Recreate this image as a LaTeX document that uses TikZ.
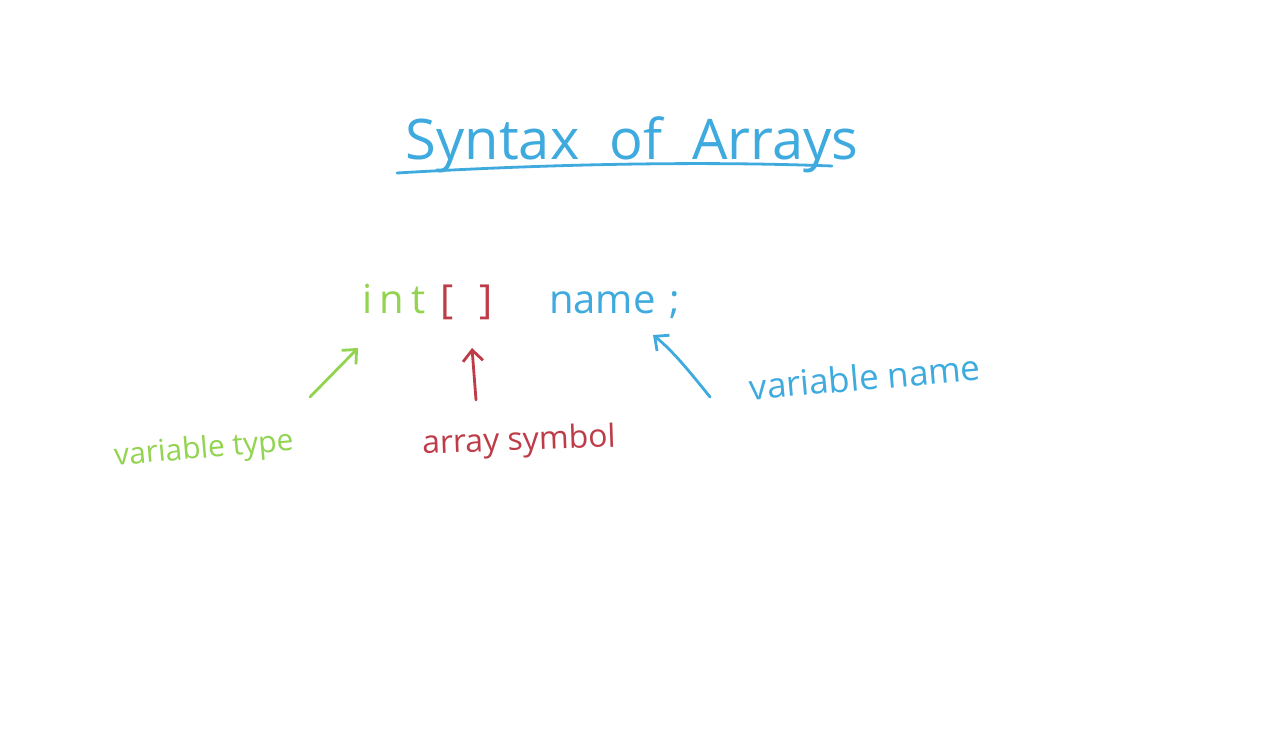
\documentclass[tikz,border=0pt]{standalone}
\usepackage{fontspec}
\setmainfont{Open Sans}
\usetikzlibrary{arrows.meta}
\definecolor{hblue}{RGB}{62,170,222}
\definecolor{hgreen}{RGB}{146,212,80}
\definecolor{hred}{RGB}{190,60,72}
\begin{document}
\begin{tikzpicture}[x=1pt,y=-1pt,
  every node/.style={inner sep=0pt,outer sep=0pt},
  stroke/.style={line width=2.8pt,line cap=round,line join=round},
  tipped/.style={stroke,-{Straight Barb[length=11pt,width=20pt,line width=2.8pt]}},
  title/.style={font=\fontsize{56}{60}\selectfont,text=hblue},
  code/.style={font=\fontsize{40}{44}\selectfont},
  lbl/.style={font=\fontsize{30}{34}\selectfont}]
\useasboundingbox[fill=white] (0,0) rectangle (1280,751);

% title
\node[title,anchor=base] (title) at (632,160) {Syntax\hspace{30pt}of\hspace{30pt}Arrays};
\draw[stroke,hblue] (397,173) .. controls (550,164) and (700,161) .. (832,166);

% code line
\node[code,text=hgreen,anchor=base west] (int) at (362,314) {\addfontfeature{LetterSpace=18}int};
\node[code,text=hred,anchor=base west] (br) at (440,314) {[\hspace{26pt}]};
\node[code,text=hblue,anchor=base west] (name) at (549,314) {name\hspace{14pt};};

% labels
\node[lbl,text=hgreen,rotate=5] (vt) at (204,450) {variable type};
\node[lbl,text=hred,rotate=2,font=\fontsize{32}{36}\selectfont] (as) at (519,442) {array symbol};
\node[lbl,text=hblue,rotate=5,font=\fontsize{35}{38}\selectfont] (vn) at (865,377) {variable name};

% arrow ends
\coordinate (g1) at (310,397);
\coordinate (g2) at (358,348);
\coordinate (r1) at (476,400);
\coordinate (r2) at (472,348);
\coordinate (b1) at (710,397);
\coordinate (b2) at (653,335);

\draw[tipped,hgreen] (g1) -- (g2);
\draw[tipped,hred] (r1) -- (r2);
\draw[tipped,hblue] (b1) .. controls (690,372) and (672,350) .. (b2);
\end{tikzpicture}
\end{document}
